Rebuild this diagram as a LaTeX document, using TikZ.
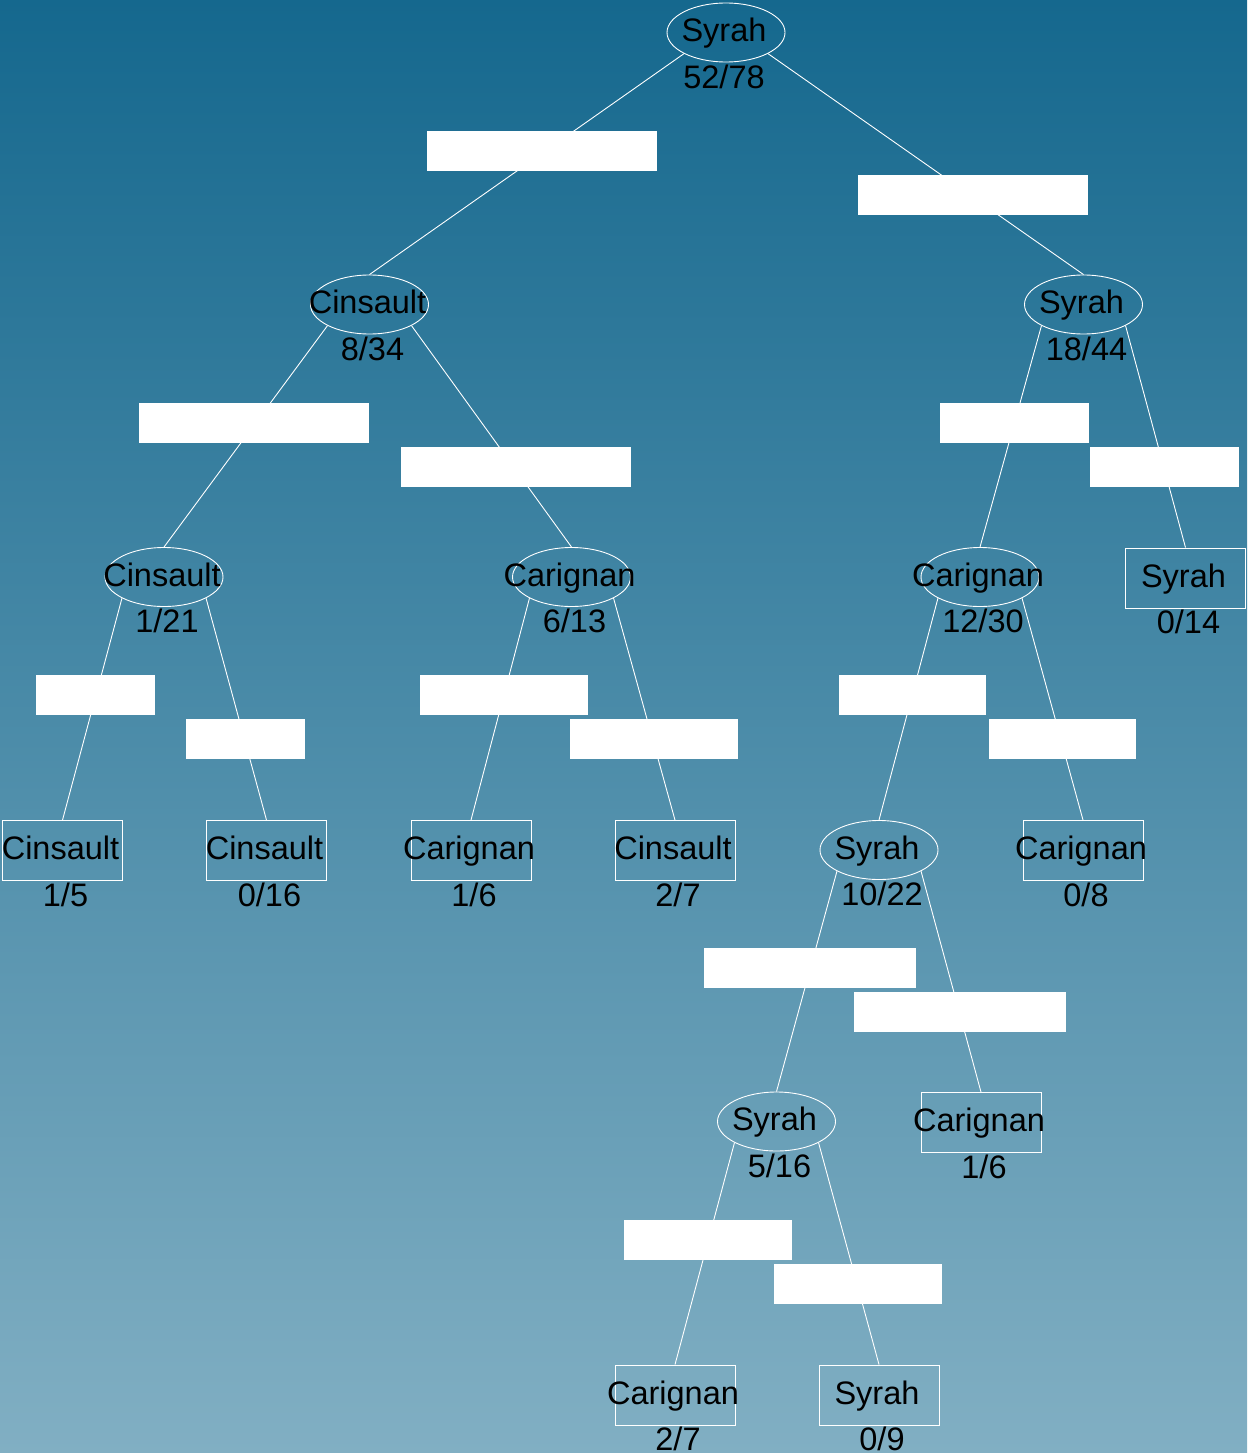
\documentclass[tikz,border=0pt]{standalone}
\usepackage{fontspec}
\setmainfont{Liberation Sans}
\usetikzlibrary{shapes.geometric}
\definecolor{bgtop}{RGB}{21,104,142}
\definecolor{bgbot}{RGB}{129,175,195}
\tikzset{
  splitnode/.style={draw=white, line width=0.9pt, ellipse, minimum width=118pt, minimum height=59pt, inner sep=0pt},
  leafnode/.style={draw=white, line width=0.9pt, rectangle, minimum width=120pt, minimum height=60pt, inner sep=0pt},
  condbox/.style={fill=white, draw=none, minimum height=40pt, inner sep=0pt},
  branch/.style={draw=white, line width=0.9pt},
  lab/.style={font=\fontsize{32.5}{39}\selectfont, anchor=base, inner sep=0pt, text=black},
}
\newcommand\mysplit[6][3pt]{%
  \node[splitnode] (#2) at (#3,#4) {};
  \node[lab] (#2l) at ([yshift=-9pt,xshift=-2pt]#2.center) {#5};
  \node[lab] (#2c) at ([yshift=-55.6pt,xshift=#1]#2.center) {#6};}
\newcommand\myleaf[5]{%
  \node[leafnode] (#1) at (#2,#3) {};
  \node[lab] (#1l) at ([yshift=-9pt,xshift=-2pt]#1.center) {#4};
  \node[lab] (#1c) at ([yshift=-55.6pt,xshift=3pt]#1.center) {#5};}
\begin{document}
\begin{tikzpicture}[x=1pt,y=-1pt]
\useasboundingbox (0,0) rectangle (1247,1453);
\shade[top color=bgtop, bottom color=bgbot] (0,0) rectangle (1247,1453);

% split nodes
\mysplit[-2pt]{n1}{726}{32.5}{Syrah}{52/78}
\mysplit{n2}{369.5}{304.5}{Cinsault}{8/34}
\mysplit{n3}{1083.5}{304.5}{Syrah}{18/44}
\mysplit{n4}{164}{577}{Cinsault}{1/21}
\mysplit{n5}{571.5}{577}{Carignan}{6/13}
\mysplit{n6}{980}{577}{Carignan}{12/30}
\mysplit{n12}{879}{850}{Syrah}{10/22}
\mysplit{n14}{776.5}{1121.5}{Syrah}{5/16}

% leaves
\myleaf{L7}{1185.5}{578}{Syrah}{0/14}
\myleaf{L8}{62.5}{850.5}{Cinsault}{1/5}
\myleaf{L9}{266.5}{850.5}{Cinsault}{0/16}
\myleaf{L10}{471}{850.5}{Carignan}{1/6}
\myleaf{L11}{675}{850.5}{Cinsault}{2/7}
\myleaf{L13}{1083}{850.5}{Carignan}{0/8}
\myleaf{L15}{981}{1122.5}{Carignan}{1/6}
\myleaf{L16}{675}{1395}{Carignan}{2/7}
\myleaf{L17}{879}{1395}{Syrah}{0/9}

% branches
\draw[branch] (n1.south west) -- (n2.north);
\draw[branch] (n1.south east) -- (n3.north);
\draw[branch] (n2.south west) -- (n4.north);
\draw[branch] (n2.south east) -- (n5.north);
\draw[branch] (n3.south west) -- (n6.north);
\draw[branch] (n3.south east) -- (L7.north);
\draw[branch] (n4.south west) -- (L8.north);
\draw[branch] (n4.south east) -- (L9.north);
\draw[branch] (n5.south west) -- (L10.north);
\draw[branch] (n5.south east) -- (L11.north);
\draw[branch] (n6.south west) -- (n12.north);
\draw[branch] (n6.south east) -- (L13.north);
\draw[branch] (n12.south west) -- (n14.north);
\draw[branch] (n12.south east) -- (L15.north);
\draw[branch] (n14.south west) -- (L16.north);
\draw[branch] (n14.south east) -- (L17.north);

% condition boxes
\node[condbox, minimum width=230pt] (c1) at (542,151) {};
\node[condbox, minimum width=230pt] (c2) at (973,195) {};
\node[condbox, minimum width=230pt] (c3) at (254,423) {};
\node[condbox, minimum width=230pt] (c4) at (516,467) {};
\node[condbox, minimum width=149pt] (c5) at (1014.5,423) {};
\node[condbox, minimum width=149pt] (c6) at (1164.5,467) {};
\node[condbox, minimum width=119pt] (c7) at (95.5,695) {};
\node[condbox, minimum width=119pt] (c8) at (245.5,739) {};
\node[condbox, minimum width=168pt] (c9) at (504,695) {};
\node[condbox, minimum width=168pt] (c10) at (654,739) {};
\node[condbox, minimum width=147pt] (c11) at (912.5,695) {};
\node[condbox, minimum width=147pt] (c12) at (1062.5,739) {};
\node[condbox, minimum width=212pt] (c13) at (810,968) {};
\node[condbox, minimum width=212pt] (c14) at (960,1012) {};
\node[condbox, minimum width=168pt] (c15) at (708,1240) {};
\node[condbox, minimum width=168pt] (c16) at (858,1284) {};
\end{tikzpicture}
\end{document}
